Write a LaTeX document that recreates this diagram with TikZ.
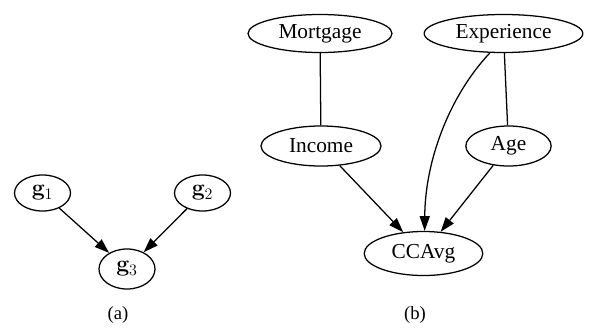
\documentclass[tikz,border=0pt]{standalone}
\usepackage[no-math]{fontspec}
\setmainfont{Liberation Serif}
\usetikzlibrary{shapes.geometric,arrows.meta}
\tikzset{
  var/.style = {draw, ellipse, inner sep=0pt, line width=0.95pt,
                font=\fontsize{16}{19}\selectfont},
  gvar/.style = {draw, ellipse, inner sep=0pt, line width=0.95pt,
                 minimum width=42pt, minimum height=27pt,
                 font=\fontsize{17}{20}\selectfont},
  arr/.style = {line width=0.95pt, -{Triangle[length=11pt,width=7.5pt]}},
  link/.style = {line width=0.95pt},
  sublabel/.style = {font=\fontsize{14}{17}\selectfont}
}
\begin{document}
\begin{tikzpicture}[x=0.75pt,y=-0.75pt]
  \useasboundingbox (0,0) rectangle (593,329);
  % (a)
  \node[gvar] (gone)   at (42.5,193)  {$\mathbf{g}_1$};
  \node[gvar] (gtwo)   at (202.5,193) {$\mathbf{g}_2$};
  \node[gvar, minimum height=30pt] (gthree) at (127,269) {$\mathbf{g}_3$};
  \draw[arr] (gone) -- (gthree);
  \draw[arr] (gtwo) -- (gthree);
  \node[sublabel] (capa) at (118,315) {(a)};
  % (b)
  \node[var, minimum width=108pt, minimum height=28.5pt] (mortgage)   at (320,33.5)   {Mortgage};
  \node[var, minimum width=119pt, minimum height=28.5pt] (experience) at (503.5,33.5) {Experience};
  \node[var, minimum width=90pt,  minimum height=30pt]   (income)     at (321,146)    {Income};
  \node[var, minimum width=64pt,  minimum height=30pt]   (age)        at (508.5,146)  {Age};
  \node[var, minimum width=89pt,  minimum height=33pt]   (ccavg)      at (423.5,253.5) {CCAvg};
  \draw[link] (mortgage) -- (income);
  \draw[link] (experience) -- (age);
  \draw[arr] (income) -- (ccavg);
  \draw[arr] (age) -- (ccavg);
  \draw[arr] (experience.235) .. controls (450,95) and (425,160) .. (ccavg.87);
  \node[sublabel] (capb) at (415,315) {(b)};
\end{tikzpicture}
\end{document}
